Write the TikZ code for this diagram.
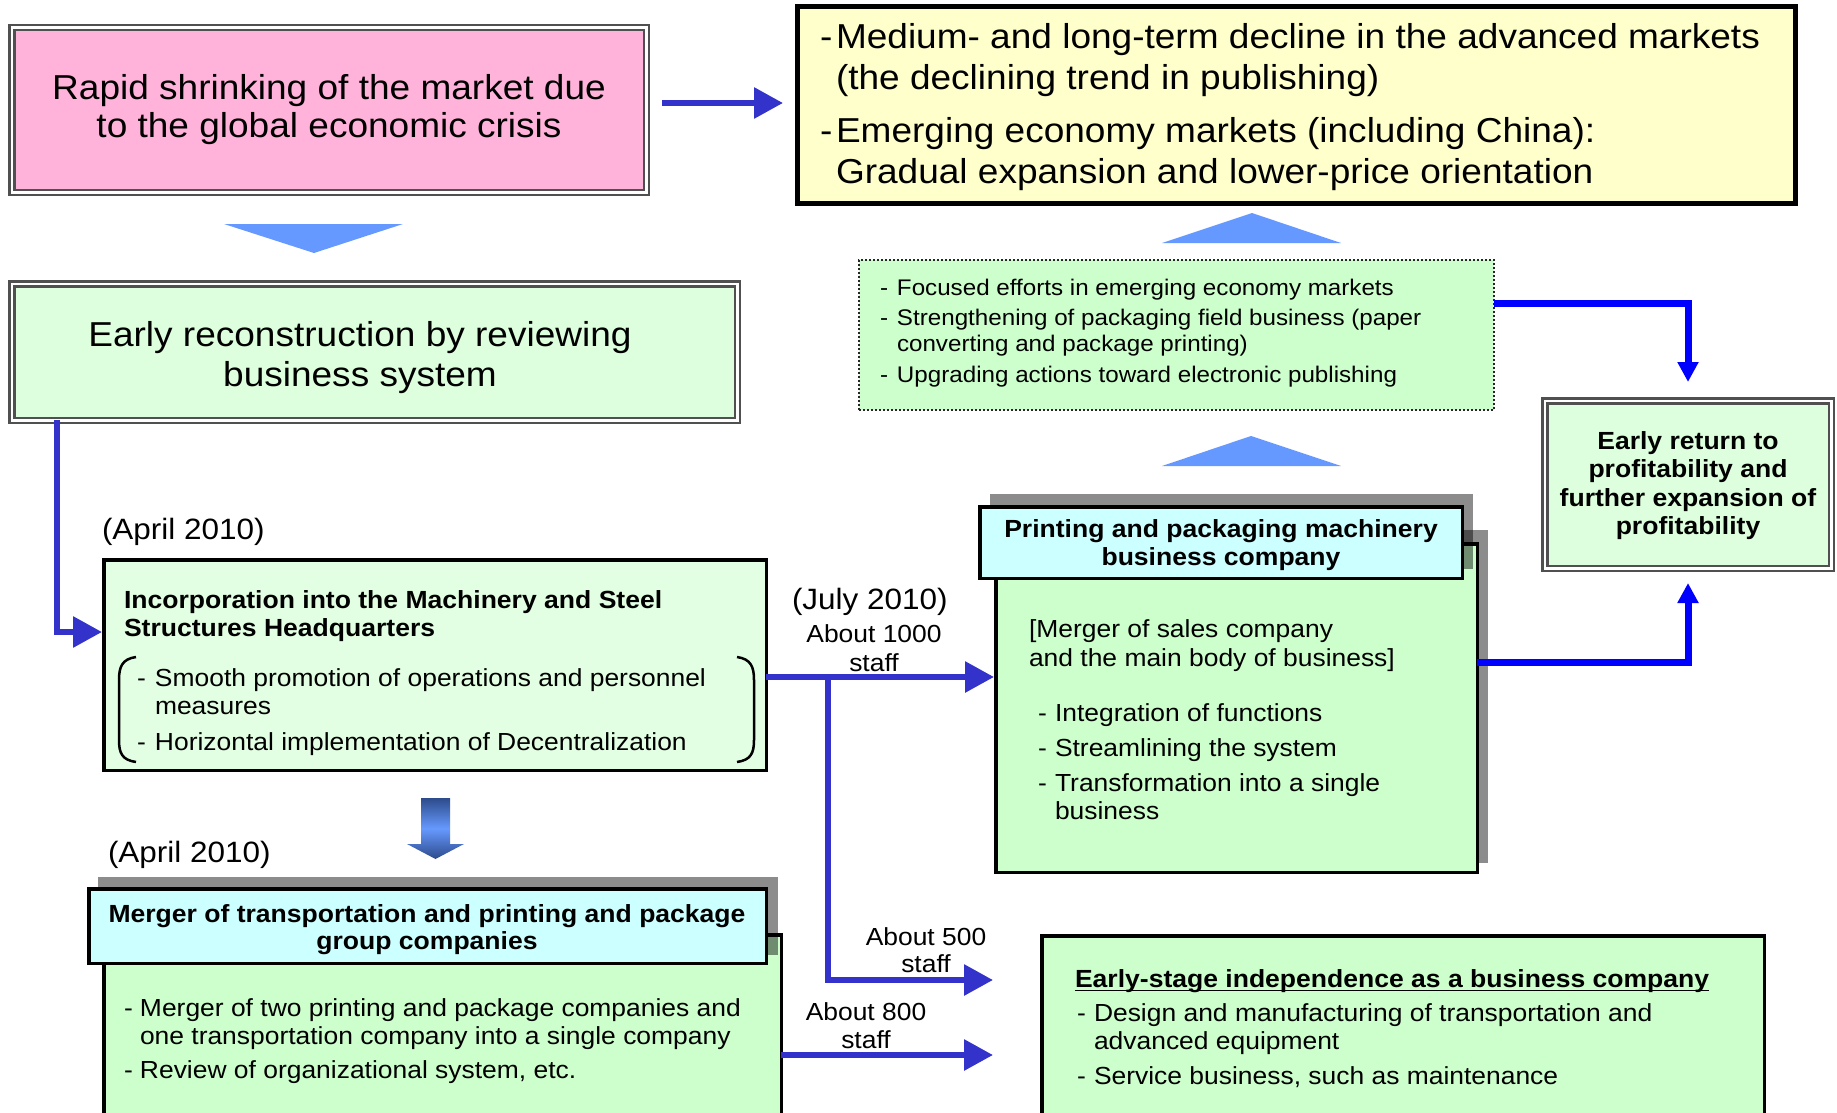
\documentclass[tikz,border=0pt]{standalone}
\usepackage{fontspec}
\setmainfont[FakeStretch=1.07]{Liberation Sans}
\usetikzlibrary{arrows.meta,calc}
\definecolor{cPink}{HTML}{FFB3DA}
\definecolor{cYel}{HTML}{FFFFCC}
\definecolor{cGa}{HTML}{DDFFDD}
\definecolor{cGb}{HTML}{CCFFCC}
\definecolor{cGc}{HTML}{E3FFE3}
\definecolor{cCyan}{HTML}{CCFFFF}
\definecolor{cArrC}{HTML}{3333CC}
\definecolor{cArrB}{HTML}{0000FF}
\definecolor{cTri}{HTML}{6699FF}
\definecolor{cShadow}{HTML}{8C8C8C}
\definecolor{cDbl}{HTML}{505050}
\definecolor{cNavy}{HTML}{2D4B8A}
\newcommand\tsx{\rule{0pt}{0.8em}}
\newcommand\dsh[1]{\makebox[#1][l]{-}}
\begin{document}
\begin{tikzpicture}[x=1pt,y=-1pt,
  every node/.style={inner sep=0pt,outer sep=0pt},
  boxn/.style={rectangle,anchor=north west},
  dblbox/.style={boxn,draw=cDbl,line width=2.5pt,double=white,double distance=2.5pt},
  blkbox/.style={boxn,draw=black,line width=3.5pt},
  txt/.style={align=left,anchor=north west},
  ctxt/.style={align=center,anchor=north},
  arrC/.style={draw=cArrC,line width=6pt,-{Triangle[width=30pt,length=29pt]}},
  arrB/.style={draw=cArrB,line width=7pt,-{Triangle[width=20pt,length=20pt]}},
  fbody/.style={font=\fontsize{24.7}{28}\selectfont},
  fbold/.style={font=\bfseries\fontsize{24.8}{28}\selectfont},
  fdate/.style={font=\fontsize{29.4}{34}\selectfont}
]
\useasboundingbox (0,0) rectangle (1837,1113);
\clip (0,0) rectangle (1837,1113);
\fill[white] (0,0) rectangle (1837,1113);

% ---------- top row ----------
\node[dblbox,fill=cPink,minimum width=634.5pt,minimum height=164.5pt] (pink) at (11.75,27.75) {};
\node[ctxt,font=\fontsize{34.6}{38}\selectfont] (tpink) at (329,72.3)
  {\tsx Rapid shrinking of the market due\\to the global economic crisis};

\node[boxn,draw=black,line width=5pt,fill=cYel,minimum width=998pt,minimum height=197pt] (yellow) at (797.5,6.5) {};
\node[txt,font=\fontsize{34.6}{41}\selectfont] (tyellow) at (820,21.3)
  {\tsx\dsh{16pt}Medium- and long-term decline in the advanced markets\\
   \hspace*{16pt}(the declining trend in publishing)\\[12pt]
   \dsh{16pt}Emerging economy markets (including China):\\
   \hspace*{16pt}Gradual expansion and lower-price orientation};

\coordinate (y1) at ([yshift=2pt]yellow.west);
\draw[arrC,shorten <=15.75pt,shorten >=14.5pt] (pink.east |- y1) -- (y1);

% triangles
\fill[cTri] (224,224) -- (403,224) -- (314,253) -- cycle;
\fill[cTri] (1162,243) -- (1341,243) -- (1252,213) -- cycle;
\fill[cTri] (1162,466) -- (1341,466) -- (1251,436) -- cycle;

% ---------- early reconstruction ----------
\node[dblbox,fill=cGa,minimum width=725.5pt,minimum height=136.5pt] (recon) at (11.75,283.75) {};
\node[ctxt,font=\fontsize{34.6}{40}\selectfont] (trecon) at (360,319.3)
  {\tsx Early reconstruction by reviewing\\business system};

% ---------- dotted box ----------
\node[boxn,draw=black!85,line width=2pt,dash pattern=on 2pt off 2pt,fill=cGb,minimum width=635pt,minimum height=150pt] (dotted) at (859,260) {};
\node[txt,font=\fontsize{22.6}{26}\selectfont] (tdotted) at (880,277.9)
  {\tsx\dsh{17pt}Focused efforts in emerging economy markets\\[4pt]
   \dsh{17pt}Strengthening of packaging field business (paper\\
   \hspace*{17pt}converting and package printing)\\[5pt]
   \dsh{17pt}Upgrading actions toward electronic publishing};

% ---------- early return ----------
\node[dblbox,fill=cGa,minimum width=286.5pt,minimum height=167.5pt] (eret) at (1544.75,400.75) {};
\node[ctxt,font=\bfseries\fontsize{24.8}{28.5}\selectfont] (teret) at (1688,429.2)
  {\tsx Early return to\\profitability and\\further expansion of\\profitability};

% ---------- incorporation ----------
\node[fdate,anchor=base west] (tapr1) at (102,539) {(April 2010)};
\node[blkbox,fill=cGc,minimum width=662.5pt,minimum height=210.5pt] (incorp) at (103.75,559.75) {};
\node[txt,fbold] (tinctitle) at (124,588.2)
  {\tsx Incorporation into the Machinery and Steel\\Structures Headquarters};
\node[txt,fbody] (tincitems) at (137,667.2)
  {\tsx\dsh{18pt}Smooth promotion of operations and personnel\\
   \hspace*{18pt}measures\\[8pt]
   \dsh{18pt}Horizontal implementation of Decentralization};
\draw[line width=2.5pt] (136,657) .. controls (122,659) and (119,667) .. (119,680) -- (119,740) .. controls (119,753) and (122,760) .. (136,762);
\draw[line width=2.5pt] (737,657) .. controls (751,659) and (754,667) .. (754,680) -- (754,740) .. controls (754,753) and (751,760) .. (737,762);

% ---------- printing & packaging company ----------
\fill[cShadow] (1003,530) rectangle (1488,863);
\node[blkbox,fill=cGb,minimum width=481.5pt,minimum height=328.5pt] (pbody) at (995.75,543.75) {};
\fill[black,opacity=0.45] (990,494) rectangle (1473,569);
\node[blkbox,fill=cCyan,minimum width=482.5pt,minimum height=71.5pt] (phead) at (979.75,506.75) {};
\node[ctxt,fbold] (tphead) at (1221,517.2)
  {\tsx Printing and packaging machinery\\business company};
\node[txt,font=\fontsize{24.7}{29}\selectfont] (tppara) at (1029,618.2)
  {\tsx[Merger of sales company\\and the main body of business]};
\node[txt,fbody] (tplist) at (1038,702.2)
  {\tsx\dsh{17pt}Integration of functions\\[7pt]
   \dsh{17pt}Streamlining the system\\[7pt]
   \dsh{17pt}Transformation into a single\\
   \hspace*{17pt}business};

% ---------- July labels ----------
\node[fdate,anchor=base west] (tjuly) at (792,609) {(July 2010)};
\node[ctxt,font=\fontsize{24.7}{29}\selectfont] (t1000) at (874,623.2) {\tsx About 1000\\staff};

% ---------- merger company ----------
\node[fdate,anchor=base west] (tapr2) at (108,862) {(April 2010)};
\node[blkbox,fill=cGb,minimum width=677.5pt,minimum height=195pt] (mbody) at (103.75,934.75) {};
\fill[black,opacity=0.45] (98,877) rectangle (778,955);
\node[blkbox,fill=cCyan,minimum width=677.5pt,minimum height=74.5pt] (mhead) at (88.75,888.75) {};
\node[ctxt,font=\bfseries\fontsize{24.8}{27.5}\selectfont] (tmhead) at (427,902.2)
  {\tsx Merger of transportation and printing and package\\group companies};
\node[txt,fbody] (tmlist) at (124,997.2)
  {\tsx\dsh{16pt}Merger of two printing and package companies and\\
   \hspace*{16pt}one transportation company into a single company\\[6pt]
   \dsh{16pt}Review of organizational system, etc.};

% gradient down arrow
\shade[top color=cNavy,bottom color=cNavy,middle color=cTri]
  (421,798) -- (450,798) -- (450,844) -- (464,844) -- (435.5,859) -- (407,844) -- (421,844) -- cycle;

% ---------- early-stage independence ----------
\node[blkbox,fill=cGb,minimum width=722.5pt,minimum height=194pt] (estage) at (1041.75,935.75) {};
\node[fbold,anchor=base west] (tetitle) at (1075,987) {Early-stage independence as a business company};
\draw[line width=1.8pt] ([yshift=-3.5pt]tetitle.base west) -- ([yshift=-3.5pt]tetitle.base east);
\node[txt,fbody] (telist) at (1077,1002.2)
  {\tsx\dsh{17pt}Design and manufacturing of transportation and\\
   \hspace*{17pt}advanced equipment\\[7pt]
   \dsh{17pt}Service business, such as maintenance};

\node[ctxt,font=\fontsize{24.7}{27}\selectfont] (t500) at (926,926.2) {\tsx About 500\\staff};
\node[ctxt,fbody] (t800) at (866,1001.2) {\tsx About 800\\staff};

% ---------- connectors ----------
\draw[arrC,shorten >=1.75pt] ([xshift=45.25pt]recon.south west) |- ([yshift=33pt]incorp.west);
\coordinate (c1) at ([yshift=-12pt]incorp.east);
\draw[arrC,shorten >=1.75pt] (c1) -- (c1 -| pbody.west);
\coordinate (br) at ([xshift=61.75pt]c1);
\coordinate (e500) at ([yshift=-44.25pt]estage.north west);
\coordinate (e800) at ([yshift=-119.25pt]estage.north west);
\draw[arrC,shorten >=48.75pt] (br) |- (e500);
\draw[arrC,shorten >=48.75pt] (e800 -| mbody.east) -- (e800);

\coordinate (d1) at ([yshift=32pt]dotted.east);
\draw[arrB,shorten >=18.75pt] (d1) -| (eret.north);
\coordinate (p1) at ([yshift=46pt]pbody.east);
\draw[arrB,shorten >=14.75pt] (p1) -| (eret.south);
\end{tikzpicture}
\end{document}
